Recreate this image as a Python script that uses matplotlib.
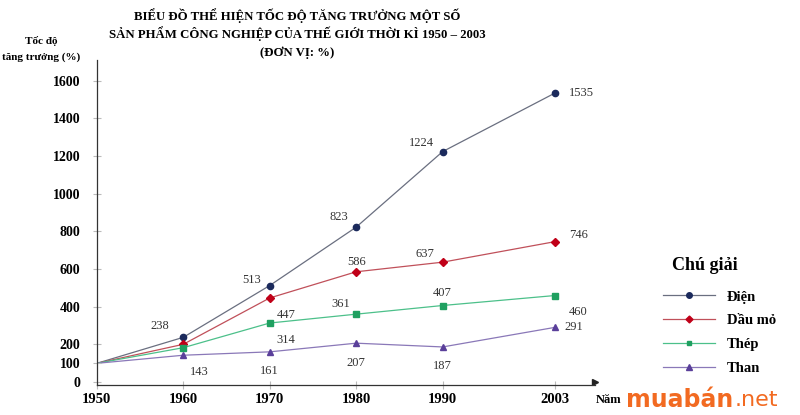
import matplotlib.pyplot as plt

years = [1950, 1960, 1970, 1980, 1990, 2003]
dien = [100, 238, 513, 823, 1224, 1535]
dau_mo = [100, 201, 447, 586, 637, 746]
thep = [100, 183, 314, 361, 407, 460]
than = [100, 143, 161, 207, 187, 291]
y_ticks = [0, 100, 200, 400, 600, 800, 1000, 1200, 1400, 1600]

plt.rcParams['font.family'] = ['Liberation Serif', 'DejaVu Serif']

fig = plt.figure(figsize=(8, 4.15), dpi=100)
ax = fig.add_axes([0.121, 0.0723, 0.6225, 0.783])

series = [
    ("Điện", dien, "#6a6f80", "#1b2a5c", "o", 4.5),
    ("Dầu mỏ", dau_mo, "#c0505a", "#c00018", "D", 4),
    ("Thép", thep, "#4cc08a", "#1fa060", "s", 4),
    ("Than", than, "#8a78b8", "#5a3f9a", "^", 4.5),
]
for name, vals, lc, mc, mk, ms in series:
    ax.plot(years[1:], vals[1:], ls="none", marker=mk, ms=ms, color=mc)
    ax.plot(years, vals, color=lc, lw=0.9, label=name, zorder=1)

# nhan so lieu (offset pixel)
lbl = {
    "dien": [(-10, 8, "right"), (-6, 4, "right"), (-6, 7, "right"), (-6, 6, "right"), (10, 0, "left")],
    "dau": [None, (5, -12, "left"), (0, 7, "center"), (-6, 6, "right"), (10, 5, "left")],
    "thep": [None, (5, -12, "left"), (-4, 7, "right"), (0, 9, "center"), (10, -12, "left")],
    "than": [(5, -12, "left"), (0, -14, "center"), (0, -14, "center"), (0, -14, "center"), (7, 0, "left")],
}
for key, vals in [("dien", dien), ("dau", dau_mo), ("thep", thep), ("than", than)]:
    for pos, x, v in zip(lbl[key], years[1:], vals[1:]):
        if pos is None:
            continue
        ox, oy, ha = pos
        ax.annotate(str(v), (x, v), xytext=(ox, oy), textcoords="offset points",
                    ha=ha, va="center", fontsize=9, color="#333333")

ax.set_xlim(1950, 2007.6)
ax.set_ylim(-15, 1710)
ax.set_xticks(years)
ax.set_xticklabels([str(y) for y in years], fontweight="bold", fontsize=10.5)
ax.set_yticks(y_ticks)
ax.set_yticklabels([str(t) for t in y_ticks], fontweight="bold", fontsize=10)
ax.tick_params(axis="both", direction="inout", length=6, color="#bbbbbb", width=0.8)
ax.tick_params(axis="y", pad=9)
ax.tick_params(axis="x", pad=3)
ax.spines["top"].set_visible(False)
ax.spines["right"].set_visible(False)
for s in ["left", "bottom"]:
    ax.spines[s].set_color("#333333")
    ax.spines[s].set_linewidth(0.9)
ax.plot(1, 0, ">", color="#222222", ms=4, transform=ax.get_yaxis_transform(), clip_on=False)
ax.plot(0, 1, "^", color="#222222", ms=4, transform=ax.get_xaxis_transform(), clip_on=False)

fig.text(0.372, 0.963, "BIỂU ĐỒ THỂ HIỆN TỐC ĐỘ TĂNG TRƯỞNG MỘT SỐ", ha="center", va="center",
         fontsize=9.2, fontweight="bold")
fig.text(0.372, 0.918, "SẢN PHẨM CÔNG NGHIỆP CỦA THẾ GIỚI THỜI KÌ 1950 – 2003", ha="center",
         va="center", fontsize=9.2, fontweight="bold")
fig.text(0.372, 0.873, "(ĐƠN VỊ: %)", ha="center", va="center", fontsize=9.2, fontweight="bold")
fig.text(0.052, 0.902, "Tốc độ", ha="center", va="center", fontsize=8, fontweight="bold")
fig.text(0.052, 0.862, "tăng trưởng (%)", ha="center", va="center", fontsize=8, fontweight="bold")
fig.text(0.745, 0.036, "Năm", ha="left", va="center", fontsize=9, fontweight="bold")

fig.text(0.881, 0.36, "Chú giải", ha="center", va="center", fontsize=13, fontweight="bold")
handles = []
for name, vals, lc, mc, mk, ms in series:
    h, = ax.plot([], [], color=lc, lw=0.9, marker=mk, ms=ms - 0.5, mfc=mc, mec=mc)
    handles.append(h)
fig.legend(handles, [s[0] for s in series], loc="upper left", bbox_to_anchor=(0.812, 0.332),
           frameon=False, handlelength=3.6, handletextpad=0.8, labelspacing=0.72,
           prop={"weight": "bold", "size": 10.5})

fig.text(0.783, 0.037, "muabán", ha="left", va="center", fontsize=17, fontweight="bold",
         color="#f26a21", family=["DejaVu Sans"])
fig.text(0.918, 0.037, ".net", ha="left", va="center", fontsize=16,
         color="#f26a21", family=["DejaVu Sans"])

fig.savefig("out.png", dpi=100)
